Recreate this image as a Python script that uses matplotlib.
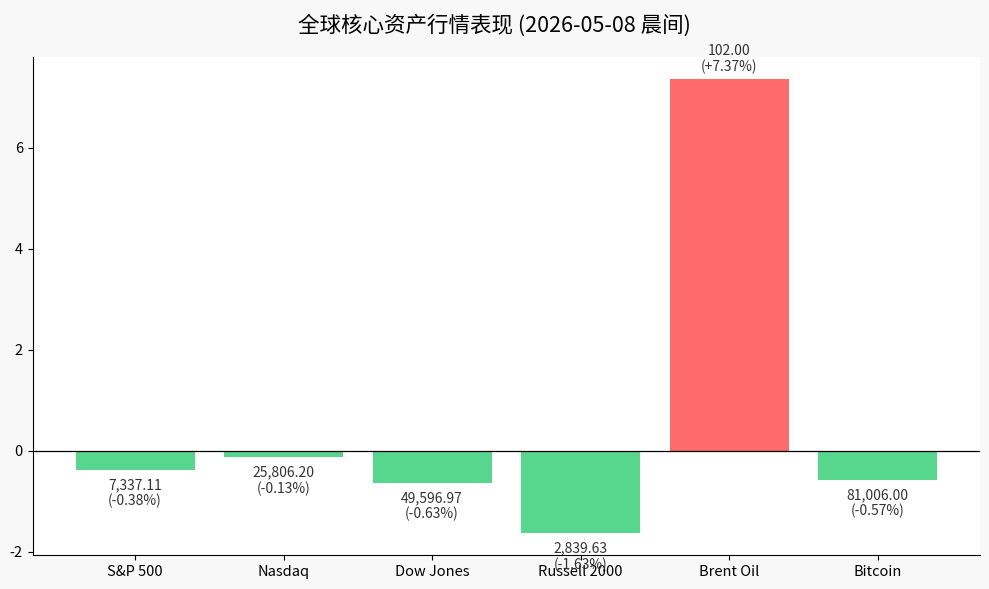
import matplotlib.pyplot as plt

plt.rcParams['font.family'] = ['Noto Sans CJK SC', 'DejaVu Sans']
plt.rcParams['axes.unicode_minus'] = False

assets = ['S&P 500', 'Nasdaq', 'Dow Jones', 'Russell 2000', 'Brent Oil', 'Bitcoin']
prices = [7337.11, 25806.20, 49596.97, 2839.63, 102.00, 81006.00]
changes = [-0.38, -0.13, -0.63, -1.63, 7.37, -0.57]

colors = ['#ff6b6b' if c > 0 else '#57d68d' for c in changes]

fig, ax = plt.subplots(figsize=(9.89, 5.89), dpi=100)
fig.patch.set_facecolor('#f8f8f8')
ax.set_facecolor('white')

x = range(len(assets))
bars = ax.bar(x, changes, width=0.8, color=colors)
ax.axhline(0, color='black', linewidth=0.9)

for bar, p, c in zip(bars, prices, changes):
    txt = f"{p:,.2f}\n({c:+.2f}%)"
    xc = bar.get_x() + bar.get_width() / 2
    if c >= 0:
        ax.annotate(txt, (xc, c), xytext=(0, 3), textcoords='offset points',
                    ha='center', va='bottom', fontsize=10, color='#333333', linespacing=1.15)
    else:
        ax.annotate(txt, (xc, c), xytext=(0, -6), textcoords='offset points',
                    ha='center', va='top', fontsize=10, color='#333333', linespacing=1.15)

ax.set_xticks(list(x))
ax.set_xticklabels(assets, fontsize=10.5)
ax.tick_params(axis='y', labelsize=10.5)
ax.set_ylim(min(changes) - 0.43, max(changes) + 0.43)
ax.spines['top'].set_visible(False)
ax.spines['right'].set_visible(False)

fig.suptitle('全球核心资产行情表现 (2026-05-08 晨间)', fontsize=15.5, y=0.975)
fig.subplots_adjust(left=0.033, right=0.991, top=0.903, bottom=0.058)
fig.savefig('out.png', dpi=100, facecolor=fig.get_facecolor())
